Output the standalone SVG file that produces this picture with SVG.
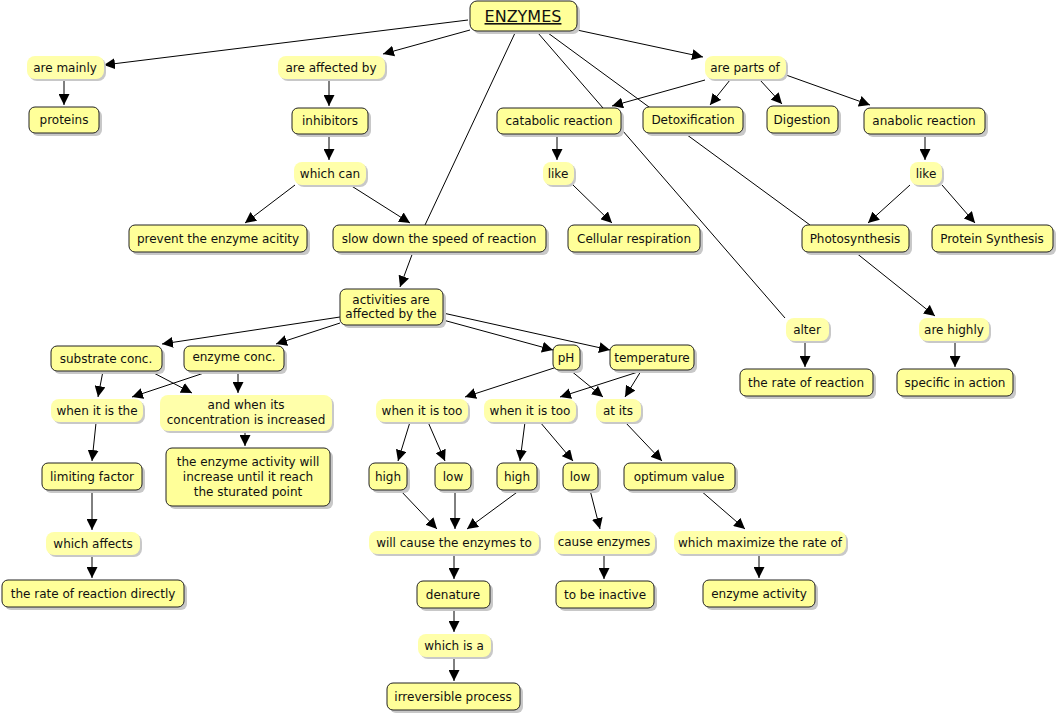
<svg xmlns="http://www.w3.org/2000/svg" width="1059" height="718" viewBox="0 0 1059 718">
<style>
.c rect.b{fill:#ffff99;stroke:#222;stroke-width:1}
.l rect.b{fill:#ffffaa;stroke:none}
rect.s{fill:#c8c8c8}
text{font-family:"DejaVu Sans",Verdana,sans-serif;font-size:12px;fill:#111;text-anchor:middle}
#edges line{stroke:#000;stroke-width:1}
#edges line.a{marker-end:url(#ah)}
</style>
<defs>
<marker id="ah" viewBox="0 0 10 10" refX="10" refY="5" markerWidth="11" markerHeight="11" markerUnits="userSpaceOnUse" orient="auto"><path d="M0,0L10,5L0,10z" fill="#000"/></marker>
</defs>
<rect width="1059" height="718" fill="#fff"/>
<g id="edges">
<line x1="538" y1="33" x2="785" y2="318"/>
<line x1="548" y1="33" x2="810" y2="225"/>
<line x1="515" y1="33" x2="425" y2="225"/>
<line class="a" x1="468" y1="20" x2="104" y2="65"/>
<line class="a" x1="470" y1="30" x2="383" y2="54"/>
<line class="a" x1="577" y1="30" x2="703" y2="57"/>
<line class="a" x1="705" y1="80" x2="612" y2="106"/>
<line class="a" x1="730" y1="80" x2="710" y2="105"/>
<line class="a" x1="760" y1="80" x2="782" y2="104"/>
<line class="a" x1="786" y1="75" x2="870" y2="105"/>
<line class="a" x1="64" y1="80" x2="64" y2="105"/>
<line class="a" x1="329" y1="80" x2="329" y2="106"/>
<line class="a" x1="329" y1="134" x2="329" y2="160"/>
<line class="a" x1="295" y1="185" x2="245" y2="223"/>
<line class="a" x1="350" y1="185" x2="410" y2="223"/>
<line class="a" x1="557" y1="134" x2="557" y2="160"/>
<line class="a" x1="573" y1="185" x2="612" y2="223"/>
<line class="a" x1="925" y1="134" x2="925" y2="160"/>
<line class="a" x1="910" y1="185" x2="868" y2="223"/>
<line class="a" x1="942" y1="185" x2="975" y2="223"/>
<line class="a" x1="413" y1="252" x2="400" y2="287"/>
<line class="a" x1="340" y1="317" x2="162" y2="344"/>
<line class="a" x1="340" y1="323" x2="276" y2="344"/>
<line class="a" x1="443" y1="320" x2="553" y2="350"/>
<line class="a" x1="443" y1="313" x2="610" y2="350"/>
<line class="a" x1="855" y1="252" x2="935" y2="316"/>
<line class="a" x1="805" y1="342" x2="805" y2="367"/>
<line class="a" x1="955" y1="342" x2="955" y2="367"/>
<line class="a" x1="103" y1="371" x2="98" y2="397"/>
<line class="a" x1="150" y1="371" x2="192" y2="393"/>
<line class="a" x1="210" y1="371" x2="132" y2="397"/>
<line class="a" x1="238" y1="371" x2="238" y2="393"/>
<line class="a" x1="245" y1="432" x2="245" y2="446"/>
<line class="a" x1="96" y1="423" x2="92" y2="461"/>
<line class="a" x1="92" y1="490" x2="92" y2="530"/>
<line class="a" x1="92" y1="555" x2="92" y2="578"/>
<line class="a" x1="557" y1="367" x2="465" y2="397"/>
<line class="a" x1="570" y1="370" x2="603" y2="397"/>
<line class="a" x1="641" y1="371" x2="560" y2="397"/>
<line class="a" x1="641" y1="371" x2="625" y2="397"/>
<line class="a" x1="410" y1="422" x2="398" y2="461"/>
<line class="a" x1="428" y1="422" x2="445" y2="461"/>
<line class="a" x1="525" y1="422" x2="520" y2="461"/>
<line class="a" x1="540" y1="422" x2="573" y2="461"/>
<line class="a" x1="625" y1="422" x2="662" y2="461"/>
<line class="a" x1="400" y1="490" x2="437" y2="529"/>
<line class="a" x1="455" y1="490" x2="455" y2="529"/>
<line class="a" x1="520" y1="490" x2="467" y2="529"/>
<line class="a" x1="590" y1="490" x2="600" y2="529"/>
<line class="a" x1="700" y1="490" x2="745" y2="529"/>
<line class="a" x1="454" y1="555" x2="454" y2="579"/>
<line class="a" x1="604" y1="555" x2="604" y2="579"/>
<line class="a" x1="759" y1="555" x2="759" y2="578"/>
<line class="a" x1="454" y1="608" x2="454" y2="632"/>
<line class="a" x1="454" y1="657" x2="454" y2="681"/>
</g>
<g id="n_enzymes" class="c"><rect class="s" x="473" y="4" width="107" height="30" rx="7"/><rect class="b" x="470" y="1" width="107" height="30" rx="7"/><text x="523" y="22" style="font-size:16px;text-decoration:underline">ENZYMES</text></g>
<g id="n_proteins" class="c"><rect class="s" x="32" y="110" width="70" height="26" rx="6"/><rect class="b" x="29" y="107" width="70" height="26" rx="6"/><text x="64" y="124">proteins</text></g>
<g id="n_inhibitors" class="c"><rect class="s" x="295" y="111" width="76" height="26" rx="6"/><rect class="b" x="292" y="108" width="76" height="26" rx="6"/><text x="330" y="125">inhibitors</text></g>
<g id="n_prevent" class="c"><rect class="s" x="132" y="228" width="178" height="27" rx="6"/><rect class="b" x="129" y="225" width="178" height="27" rx="6"/><text x="218" y="243">prevent the enzyme acitity</text></g>
<g id="n_slow" class="c"><rect class="s" x="336" y="228" width="213" height="27" rx="6"/><rect class="b" x="333" y="225" width="213" height="27" rx="6"/><text x="439" y="243">slow down the speed of reaction</text></g>
<g id="n_catabolic" class="c"><rect class="s" x="500" y="111" width="124" height="26" rx="6"/><rect class="b" x="497" y="108" width="124" height="26" rx="6"/><text x="559" y="125">catabolic reaction</text></g>
<g id="n_detox" class="c"><rect class="s" x="646" y="110" width="100" height="26" rx="6"/><rect class="b" x="643" y="107" width="100" height="26" rx="6"/><text x="693" y="124">Detoxification</text></g>
<g id="n_digestion" class="c"><rect class="s" x="770" y="109" width="71" height="27" rx="6"/><rect class="b" x="767" y="106" width="71" height="27" rx="6"/><text x="802" y="124">Digestion</text></g>
<g id="n_anabolic" class="c"><rect class="s" x="867" y="111" width="121" height="26" rx="6"/><rect class="b" x="864" y="108" width="121" height="26" rx="6"/><text x="924" y="125">anabolic reaction</text></g>
<g id="n_cellular" class="c"><rect class="s" x="571" y="228" width="132" height="27" rx="6"/><rect class="b" x="568" y="225" width="132" height="27" rx="6"/><text x="634" y="243">Cellular respiration</text></g>
<g id="n_photo" class="c"><rect class="s" x="805" y="228" width="107" height="27" rx="6"/><rect class="b" x="802" y="225" width="107" height="27" rx="6"/><text x="855" y="243">Photosynthesis</text></g>
<g id="n_protsyn" class="c"><rect class="s" x="935" y="228" width="121" height="27" rx="6"/><rect class="b" x="932" y="225" width="121" height="27" rx="6"/><text x="992" y="243">Protein Synthesis</text></g>
<g id="n_activities" class="c"><rect class="s" x="343" y="292" width="103" height="36" rx="6"/><rect class="b" x="340" y="289" width="103" height="36" rx="6"/><text x="391" y="304">activities are</text><text x="391" y="318">affected by the</text></g>
<g id="n_substrate" class="c"><rect class="s" x="54" y="349" width="111" height="25" rx="6"/><rect class="b" x="51" y="346" width="111" height="25" rx="6"/><text x="106" y="363">substrate conc.</text></g>
<g id="n_enzconc" class="c"><rect class="s" x="187" y="349" width="100" height="25" rx="6"/><rect class="b" x="184" y="346" width="100" height="25" rx="6"/><text x="234" y="361">enzyme conc.</text></g>
<g id="n_ph" class="c"><rect class="s" x="556" y="348" width="27" height="25" rx="6"/><rect class="b" x="553" y="345" width="27" height="25" rx="6"/><text x="566" y="362">pH</text></g>
<g id="n_temp" class="c"><rect class="s" x="613" y="348" width="84" height="25" rx="6"/><rect class="b" x="610" y="345" width="84" height="25" rx="6"/><text x="652" y="362">temperature</text></g>
<g id="n_limiting" class="c"><rect class="s" x="45" y="466" width="100" height="27" rx="6"/><rect class="b" x="42" y="463" width="100" height="27" rx="6"/><text x="92" y="481">limiting factor</text></g>
<g id="n_enzact" class="c"><rect class="s" x="169" y="451" width="164" height="58" rx="6"/><rect class="b" x="166" y="448" width="164" height="58" rx="6"/><text x="248" y="466">the enzyme activity will</text><text x="248" y="481">increase until it reach</text><text x="248" y="496">the sturated point</text></g>
<g id="n_high1" class="c"><rect class="s" x="372" y="466" width="38" height="27" rx="6"/><rect class="b" x="369" y="463" width="38" height="27" rx="6"/><text x="388" y="481">high</text></g>
<g id="n_low1" class="c"><rect class="s" x="438" y="466" width="36" height="27" rx="6"/><rect class="b" x="435" y="463" width="36" height="27" rx="6"/><text x="453" y="481">low</text></g>
<g id="n_high2" class="c"><rect class="s" x="500" y="466" width="40" height="27" rx="6"/><rect class="b" x="497" y="463" width="40" height="27" rx="6"/><text x="517" y="481">high</text></g>
<g id="n_low2" class="c"><rect class="s" x="566" y="466" width="35" height="27" rx="6"/><rect class="b" x="563" y="463" width="35" height="27" rx="6"/><text x="580" y="481">low</text></g>
<g id="n_optimum" class="c"><rect class="s" x="627" y="466" width="111" height="27" rx="6"/><rect class="b" x="624" y="463" width="111" height="27" rx="6"/><text x="679" y="481">optimum value</text></g>
<g id="n_rrdirect" class="c"><rect class="s" x="5" y="583" width="182" height="27" rx="6"/><rect class="b" x="2" y="580" width="182" height="27" rx="6"/><text x="93" y="598">the rate of reaction directly</text></g>
<g id="n_denature" class="c"><rect class="s" x="420" y="584" width="73" height="27" rx="6"/><rect class="b" x="417" y="581" width="73" height="27" rx="6"/><text x="453" y="599">denature</text></g>
<g id="n_inactive" class="c"><rect class="s" x="559" y="584" width="98" height="27" rx="6"/><rect class="b" x="556" y="581" width="98" height="27" rx="6"/><text x="605" y="599">to be inactive</text></g>
<g id="n_enzactivity" class="c"><rect class="s" x="706" y="583" width="112" height="27" rx="6"/><rect class="b" x="703" y="580" width="112" height="27" rx="6"/><text x="759" y="598">enzyme activity</text></g>
<g id="n_irrev" class="c"><rect class="s" x="390" y="686" width="133" height="27" rx="6"/><rect class="b" x="387" y="683" width="133" height="27" rx="6"/><text x="453" y="701">irreversible process</text></g>
<g id="n_rr" class="c"><rect class="s" x="743" y="372" width="133" height="27" rx="6"/><rect class="b" x="740" y="369" width="133" height="27" rx="6"/><text x="806" y="387">the rate of reaction</text></g>
<g id="n_specific" class="c"><rect class="s" x="900" y="372" width="116" height="27" rx="6"/><rect class="b" x="897" y="369" width="116" height="27" rx="6"/><text x="955" y="387">specific in action</text></g>
<g id="l_mainly" class="l"><rect class="s" x="29" y="58" width="77" height="23" rx="8"/><rect class="b" x="27" y="56" width="77" height="23" rx="8"/><text x="65" y="72">are mainly</text></g>
<g id="l_affected" class="l"><rect class="s" x="280" y="58" width="107" height="23" rx="8"/><rect class="b" x="278" y="56" width="107" height="23" rx="8"/><text x="331" y="72">are affected by</text></g>
<g id="l_parts" class="l"><rect class="s" x="707" y="58" width="81" height="23" rx="8"/><rect class="b" x="705" y="56" width="81" height="23" rx="8"/><text x="745" y="72">are parts of</text></g>
<g id="l_whichcan" class="l"><rect class="s" x="296" y="164" width="72" height="23" rx="8"/><rect class="b" x="294" y="162" width="72" height="23" rx="8"/><text x="330" y="178">which can</text></g>
<g id="l_like1" class="l"><rect class="s" x="545" y="164" width="31" height="23" rx="8"/><rect class="b" x="543" y="162" width="31" height="23" rx="8"/><text x="558" y="178">like</text></g>
<g id="l_like2" class="l"><rect class="s" x="912" y="164" width="32" height="23" rx="8"/><rect class="b" x="910" y="162" width="32" height="23" rx="8"/><text x="926" y="178">like</text></g>
<g id="l_andwhen" class="l"><rect class="s" x="162" y="397" width="172" height="36" rx="8"/><rect class="b" x="160" y="395" width="172" height="36" rx="8"/><text x="246" y="409">and when its</text><text x="246" y="424">concentration is increased</text></g>
<g id="l_whenthe" class="l"><rect class="s" x="53" y="401" width="92" height="23" rx="8"/><rect class="b" x="51" y="399" width="92" height="23" rx="8"/><text x="97" y="415">when it is the</text></g>
<g id="l_too1" class="l"><rect class="s" x="378" y="401" width="92" height="23" rx="8"/><rect class="b" x="376" y="399" width="92" height="23" rx="8"/><text x="422" y="415">when it is too</text></g>
<g id="l_too2" class="l"><rect class="s" x="486" y="401" width="92" height="23" rx="8"/><rect class="b" x="484" y="399" width="92" height="23" rx="8"/><text x="530" y="415">when it is too</text></g>
<g id="l_atits" class="l"><rect class="s" x="598" y="401" width="45" height="23" rx="8"/><rect class="b" x="596" y="399" width="45" height="23" rx="8"/><text x="618" y="415">at its</text></g>
<g id="l_affects" class="l"><rect class="s" x="48" y="534" width="94" height="23" rx="8"/><rect class="b" x="46" y="532" width="94" height="23" rx="8"/><text x="93" y="548">which affects</text></g>
<g id="l_willcause" class="l"><rect class="s" x="371" y="533" width="170" height="23" rx="8"/><rect class="b" x="369" y="531" width="170" height="23" rx="8"/><text x="454" y="547">will cause the enzymes to</text></g>
<g id="l_cause" class="l"><rect class="s" x="556" y="533" width="101" height="23" rx="8"/><rect class="b" x="554" y="531" width="101" height="23" rx="8"/><text x="604" y="546">cause enzymes</text></g>
<g id="l_maximize" class="l"><rect class="s" x="676" y="533" width="172" height="23" rx="8"/><rect class="b" x="674" y="531" width="172" height="23" rx="8"/><text x="760" y="547">which maximize the rate of</text></g>
<g id="l_whichisa" class="l"><rect class="s" x="420" y="636" width="73" height="23" rx="8"/><rect class="b" x="418" y="634" width="73" height="23" rx="8"/><text x="454" y="650">which is a</text></g>
<g id="l_alter" class="l"><rect class="s" x="788" y="320" width="43" height="23" rx="8"/><rect class="b" x="786" y="318" width="43" height="23" rx="8"/><text x="807" y="334">alter</text></g>
<g id="l_highly" class="l"><rect class="s" x="921" y="320" width="70" height="23" rx="8"/><rect class="b" x="919" y="318" width="70" height="23" rx="8"/><text x="954" y="334">are highly</text></g>
</svg>
